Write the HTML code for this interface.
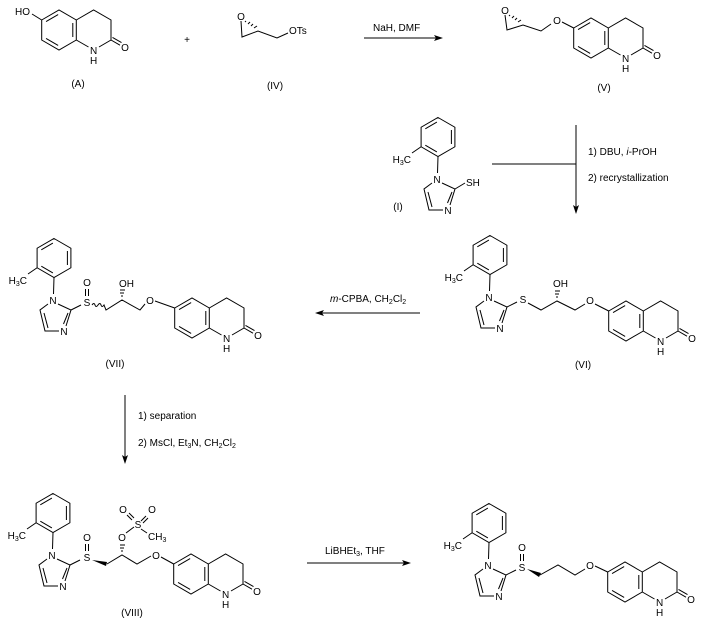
<!DOCTYPE html>
<html><head><meta charset="utf-8"><style>
html,body{margin:0;padding:0;background:#fff}
svg{display:block}
text{font-family:"Liberation Sans",Arial,sans-serif;font-size:10px;fill:#000}
.c{text-anchor:middle}
path,line,polyline{stroke:#000;stroke-width:1;fill:none}
</style></head><body>
<svg width="707" height="624" viewBox="0 0 707 624" xmlns="http://www.w3.org/2000/svg">

<!-- (A) -->
<g transform="translate(59,30)">
<path d="M-17.3,-10 L0,-20 L17.3,-10 L17.3,10 L0,20 L-17.3,10 Z M-12.95,-8.47 L-0.85,-15.47 M-12.95,8.47 L-0.85,15.47 M13.8,-7 L13.8,7 M17.3,-10 L34.6,-20 L52,-10 L52,10 L40,17 M29.5,17 L17.3,10 M52,10 L61,15.2 M53.5,7.4 L62.5,12.6 M-17.3,-10 L-27,-16"/>
<text class="c" x="34.6" y="24">N</text><text class="c" x="34.6" y="34">H</text><text class="c" x="66" y="21">O</text>
<text x="-29" y="-15" text-anchor="end">HO</text>
</g>
<text class="c" x="78" y="87">(A)</text>
<text class="c" x="187" y="43">+</text>

<!-- (IV) -->
<path d="M241,21 L242,37 L258,31 L277,38 L288,33"/>
<path d="M245,22 L246,21 M248,24 L250,22 M251,26 L253,24 M254,28 L257,26"/>
<text class="c" x="241" y="20">O</text>
<text x="289" y="34">OTs</text>
<text class="c" x="275" y="89">(IV)</text>

<!-- arrow 1 -->
<line x1="364" y1="38" x2="437" y2="38"/>
<polygon points="443,38 434,35 436,38 434,41" fill="#000"/>
<text x="373" y="31">NaH, DMF</text>

<!-- (V) -->
<path d="M505,15 L507,30 L523,25 L541,31 L551,24"/>
<path d="M509,16 L510,15 M512,18 L514,16 M515,20 L517,18 M518,22 L521,20"/>
<text class="c" x="505" y="14">O</text>
<text class="c" x="557" y="24">O</text>
<g transform="translate(591,38)">
<path d="M-17.3,-10 L0,-20 L17.3,-10 L17.3,10 L0,20 L-17.3,10 Z M-12.95,-8.47 L-0.85,-15.47 M-12.95,8.47 L-0.85,15.47 M13.8,-7 L13.8,7 M17.3,-10 L34.6,-20 L52,-10 L52,10 L40,17 M29.5,17 L17.3,10 M52,10 L61,15.2 M53.5,7.4 L62.5,12.6 M-17.3,-10 L-29,-16"/>
<text class="c" x="34.6" y="24">N</text><text class="c" x="34.6" y="34">H</text><text class="c" x="66" y="21">O</text>
</g>
<text class="c" x="604" y="91">(V)</text>

<!-- reagent (I) -->
<g transform="translate(437,179)">
<path d="M1,-61.5 L17.9,-51.75 L17.9,-32.25 L1,-22.5 L-15.9,-32.25 L-15.9,-51.75 Z M-11.7,-50.2 L-0.1,-56.9 M-11.7,-33.8 L-0.1,-27.1 M14.4,-49 L14.4,-35 M1,-22.5 L0.5,-6 M-15.9,-32.25 L-25,-26 M5,4 L18,10 L13,26 M15,13 L10.5,24 M6,31 L-8,31 L-13,10 L-5,4 M-5,28 L-9,13 M18,10 L28,4"/>
<text class="c" x="0" y="4">N</text><text class="c" x="11" y="35">N</text>
<text x="-26" y="-16" text-anchor="end">H<tspan font-size="7" dy="2">3</tspan><tspan dy="-2">C</tspan></text>
<text x="29" y="7">SH</text>
</g>
<text class="c" x="398" y="210">(I)</text>

<!-- vertical arrow right -->
<line x1="492" y1="164" x2="576" y2="164"/>
<line x1="576" y1="125" x2="576" y2="208"/>
<polygon points="576,214 573,205 576,207 579,205" fill="#000"/>
<text x="588" y="155">1) DBU, <tspan font-style="italic">i</tspan>-PrOH</text>
<text x="588" y="181">2) recrystallization</text>

<!-- (VI) -->
<g transform="translate(489,297)">
<path d="M1,-61.5 L17.9,-51.75 L17.9,-32.25 L1,-22.5 L-15.9,-32.25 L-15.9,-51.75 Z M-11.7,-50.2 L-0.1,-56.9 M-11.7,-33.8 L-0.1,-27.1 M14.4,-49 L14.4,-35 M1,-22.5 L0.5,-6 M-15.9,-32.25 L-25,-26 M5,4 L18,10 L13,26 M15,13 L10.5,24 M6,31 L-8,31 L-13,10 L-5,4 M-5,28 L-9,13 M18,10 L28,5"/>
<text class="c" x="0" y="4">N</text><text class="c" x="11" y="35">N</text>
<text x="-26" y="-16" text-anchor="end">H<tspan font-size="7" dy="2">3</tspan><tspan dy="-2">C</tspan></text>
<text class="c" x="34" y="6">S</text>
</g>
<path d="M528,303 L541,310 L557,301 L575,310 L585,304"/>
<path d="M556,297 L558,297 M555,294 L559,294 M555,291 L560,291"/>
<text x="553" y="287">OH</text>
<text class="c" x="590" y="304">O</text>
<g transform="translate(626,321)">
<path d="M-17.3,-10 L0,-20 L17.3,-10 L17.3,10 L0,20 L-17.3,10 Z M-12.95,-8.47 L-0.85,-15.47 M-12.95,8.47 L-0.85,15.47 M13.8,-7 L13.8,7 M17.3,-10 L34.6,-20 L52,-10 L52,10 L40,17 M29.5,17 L17.3,10 M52,10 L61,15.2 M53.5,7.4 L62.5,12.6 M-17.3,-10 L-31,-17"/>
<text class="c" x="34.6" y="24">N</text><text class="c" x="34.6" y="34">H</text><text class="c" x="66" y="21">O</text>
</g>
<text class="c" x="583" y="368">(VI)</text>

<!-- mCPBA arrow -->
<line x1="420" y1="313" x2="321" y2="313"/>
<polygon points="315,313 324,310 322,313 324,316" fill="#000"/>
<text x="330" y="302"><tspan font-style="italic">m</tspan>-CPBA, CH<tspan font-size="7" dy="2">2</tspan><tspan dy="-2">Cl</tspan><tspan font-size="7" dy="2">2</tspan></text>

<!-- (VII) -->
<g transform="translate(53,300)">
<path d="M1,-61.5 L17.9,-51.75 L17.9,-32.25 L1,-22.5 L-15.9,-32.25 L-15.9,-51.75 Z M-11.7,-50.2 L-0.1,-56.9 M-11.7,-33.8 L-0.1,-27.1 M14.4,-49 L14.4,-35 M1,-22.5 L0.5,-6 M-15.9,-32.25 L-25,-26 M5,4 L18,10 L13,26 M15,13 L10.5,24 M6,31 L-8,31 L-13,10 L-5,4 M-5,28 L-9,13 M18,10 L28,5"/>
<text class="c" x="0" y="4">N</text><text class="c" x="11" y="35">N</text>
<text x="-26" y="-16" text-anchor="end">H<tspan font-size="7" dy="2">3</tspan><tspan dy="-2">C</tspan></text>
<text class="c" x="34" y="6">S</text>
<path d="M32.5,-11 L32.5,-4 M35.5,-11 L35.5,-4"/>
<text class="c" x="34" y="-14">O</text>
</g>
<path d="M92,305 q2,-3 3,0 q1,3 3,0 q2,-3 3,0 q1,3 3,0 L106,310 L122,300 L140,310 L145,304"/>
<path d="M121,296 L123,296 M120,293 L124,293 M120,290 L125,290"/>
<text x="119" y="287">OH</text>
<text class="c" x="150" y="304">O</text>
<path d="M155,301 L174.7,308"/>
<g transform="translate(192,318)">
<path d="M-17.3,-10 L0,-20 L17.3,-10 L17.3,10 L0,20 L-17.3,10 Z M-12.95,-8.47 L-0.85,-15.47 M-12.95,8.47 L-0.85,15.47 M13.8,-7 L13.8,7 M17.3,-10 L34.6,-20 L52,-10 L52,10 L40,17 M29.5,17 L17.3,10 M52,10 L61,15.2 M53.5,7.4 L62.5,12.6"/>
<text class="c" x="34.6" y="24">N</text><text class="c" x="34.6" y="34">H</text><text class="c" x="66" y="21">O</text>
</g>
<text class="c" x="115" y="367">(VII)</text>

<!-- vertical arrow left -->
<line x1="125" y1="395" x2="125" y2="458"/>
<polygon points="125,464 122,455 125,457 128,455" fill="#000"/>
<text x="138" y="419">1) separation</text>
<text x="138" y="446">2) MsCl, Et<tspan font-size="7" dy="2">3</tspan><tspan dy="-2">N, CH</tspan><tspan font-size="7" dy="2">2</tspan><tspan dy="-2">Cl</tspan><tspan font-size="7" dy="2">2</tspan></text>

<!-- (VIII) -->
<g transform="translate(52,555)">
<path d="M1,-61.5 L17.9,-51.75 L17.9,-32.25 L1,-22.5 L-15.9,-32.25 L-15.9,-51.75 Z M-11.7,-50.2 L-0.1,-56.9 M-11.7,-33.8 L-0.1,-27.1 M14.4,-49 L14.4,-35 M1,-22.5 L0.5,-6 M-15.9,-32.25 L-25,-26 M5,4 L18,10 L13,26 M15,13 L10.5,24 M6,31 L-8,31 L-13,10 L-5,4 M-5,28 L-9,13 M18,10 L28,5"/>
<text class="c" x="0" y="4">N</text><text class="c" x="11" y="35">N</text>
<text x="-26" y="-16" text-anchor="end">H<tspan font-size="7" dy="2">3</tspan><tspan dy="-2">C</tspan></text>
<text class="c" x="35" y="6">S</text>
<path d="M33.5,-11 L33.5,-4 M36.5,-11 L36.5,-4"/>
<text class="c" x="35" y="-14">O</text>
</g>
<polygon points="92,560 107,562 106,566" fill="#000"/>
<path d="M107,564 L122,555 L137,564 L151,556"/>
<path d="M121,551 L123,551 M120,548 L124,548 M120,545 L125,545"/>
<text class="c" x="122" y="541">O</text>
<path d="M126,533 L134,527 M141,521 L146,516 M143,523 L148,518 M132,520 L127,515 M134,518 L129,513 M141,529 L147,533"/>
<text class="c" x="138" y="528">S</text>
<text class="c" x="123" y="513">O</text>
<text class="c" x="152" y="513">O</text>
<text x="148" y="540">CH<tspan font-size="7" dy="2">3</tspan></text>
<text class="c" x="156" y="559">O</text>
<path d="M161,557 L173.7,564"/>
<g transform="translate(191,574)">
<path d="M-17.3,-10 L0,-20 L17.3,-10 L17.3,10 L0,20 L-17.3,10 Z M-12.95,-8.47 L-0.85,-15.47 M-12.95,8.47 L-0.85,15.47 M13.8,-7 L13.8,7 M17.3,-10 L34.6,-20 L52,-10 L52,10 L40,17 M29.5,17 L17.3,10 M52,10 L61,15.2 M53.5,7.4 L62.5,12.6"/>
<text class="c" x="34.6" y="24">N</text><text class="c" x="34.6" y="34">H</text><text class="c" x="66" y="21">O</text>
</g>
<text class="c" x="132" y="616">(VIII)</text>

<!-- LiBHEt3 arrow -->
<line x1="307" y1="563" x2="404" y2="563"/>
<polygon points="411,563 402,560 404,563 402,566" fill="#000"/>
<text x="325" y="554">LiBHEt<tspan font-size="7" dy="2">3</tspan><tspan dy="-2">, THF</tspan></text>

<!-- final product -->
<g transform="translate(488,565)">
<path d="M1,-61.5 L17.9,-51.75 L17.9,-32.25 L1,-22.5 L-15.9,-32.25 L-15.9,-51.75 Z M-11.7,-50.2 L-0.1,-56.9 M-11.7,-33.8 L-0.1,-27.1 M14.4,-49 L14.4,-35 M1,-22.5 L0.5,-6 M-15.9,-32.25 L-25,-26 M5,4 L18,10 L13,26 M15,13 L10.5,24 M6,31 L-8,31 L-13,10 L-5,4 M-5,28 L-9,13 M18,10 L28,5"/>
<text class="c" x="0" y="4">N</text><text class="c" x="11" y="35">N</text>
<text x="-26" y="-16" text-anchor="end">H<tspan font-size="7" dy="2">3</tspan><tspan dy="-2">C</tspan></text>
<text class="c" x="34" y="6">S</text>
<path d="M32.5,-11 L32.5,-4 M35.5,-11 L35.5,-4"/>
<text class="c" x="34" y="-14">O</text>
</g>
<polygon points="527,569 541,573 539,577" fill="#000"/>
<path d="M540,575 L558,565 L575,575 L585,569"/>
<text class="c" x="590" y="569">O</text>
<path d="M595,566 L607.7,572"/>
<g transform="translate(625,582)">
<path d="M-17.3,-10 L0,-20 L17.3,-10 L17.3,10 L0,20 L-17.3,10 Z M-12.95,-8.47 L-0.85,-15.47 M-12.95,8.47 L-0.85,15.47 M13.8,-7 L13.8,7 M17.3,-10 L34.6,-20 L52,-10 L52,10 L40,17 M29.5,17 L17.3,10 M52,10 L61,15.2 M53.5,7.4 L62.5,12.6"/>
<text class="c" x="34.6" y="24">N</text><text class="c" x="34.6" y="34">H</text><text class="c" x="66" y="21">O</text>
</g>
</svg>
</body></html>
